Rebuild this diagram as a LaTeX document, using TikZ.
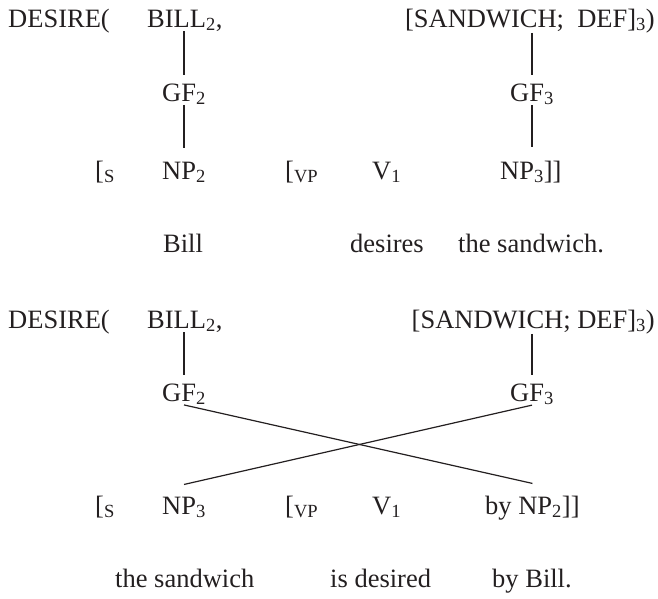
\documentclass[tikz,border=0pt]{standalone}
\usepackage{fontspec}
\setmainfont{Liberation Serif}
\usetikzlibrary{positioning,calc}
\definecolor{ink}{HTML}{231F20}

\begin{document}
\begin{tikzpicture}[x=1pt,y=-1pt,
  every node/.style={inner sep=0pt,text=ink,font=\fontsize{26.5}{31}\selectfont},
  word/.style={anchor=base west},
  wordr/.style={anchor=base east},
  link/.style={ink,line width=1.2pt}]
 \useasboundingbox (0,0) rectangle (658,598);
 % active: Bill desires the sandwich
 \node[word] (desA) at (8,27) {DESIRE(};
 \node[word] (billA) at (147,27) {BILL\textsubscript{2},};
 \node[wordr] (sandA) at (655,27) {[SANDWICH;\ \ DEF]\textsubscript{3})};
 \node[word] (gfbA) at (162,101) {GF\textsubscript{2}};
 \node[word] (gfsA) at (510,101) {GF\textsubscript{3}};
 \node[word] (sA) at (95,179) {[\textsubscript{S}};
 \node[word] (npbA) at (162,179) {NP\textsubscript{2}};
 \node[word] (vpA) at (285,179) {[\textsubscript{VP}};
 \node[word] (vA) at (372,179) {V\textsubscript{1}};
 \node[word] (npsA) at (500,179) {NP\textsubscript{3}]]};
 \node[word] (billwA) at (163,252) {Bill};
 \node[word] (desiresA) at (350,252) {desires};
 \node[word] (sandwA) at (458,252) {the sandwich.};
 \draw[link,shorten >=8pt] (gfbA.north |- billA.south) -- (gfbA.north);
 \draw[link,shorten >=13pt] (gfbA.south) -- (gfbA.south |- npbA.north);
 \draw[link,shorten >=8pt] (gfsA.north |- sandA.south) -- (gfsA.north);
 \draw[link,shorten >=13pt] (gfsA.south) -- (gfsA.south |- npsA.north);
 % passive: the sandwich is desired by Bill
 \node[word] (desB) at (8,328) {DESIRE(};
 \node[word] (billB) at (147,328) {BILL\textsubscript{2},};
 \node[wordr] (sandB) at (655,328) {[SANDWICH; DEF]\textsubscript{3})};
 \node[word] (gfbB) at (162,401) {GF\textsubscript{2}};
 \node[word] (gfsB) at (510,401) {GF\textsubscript{3}};
 \node[word] (sB) at (95,514) {[\textsubscript{S}};
 \node[word] (npsB) at (162,514) {NP\textsubscript{3}};
 \node[word] (vpB) at (285,514) {[\textsubscript{VP}};
 \node[word] (vB) at (372,514) {V\textsubscript{1}};
 \node[word] (byB) at (485,514) {by NP\textsubscript{2}]]};
 \node[word] (sandwB) at (115,587) {the sandwich};
 \node[word] (desiresB) at (330,587) {is desired};
 \node[word] (billwB) at (492,587) {by Bill.};
 \draw[link,shorten >=8pt] (gfbB.north |- billB.south) -- (gfbB.north);
 \draw[link,shorten >=8pt] (gfsB.north |- sandB.south) -- (gfsB.north);
 \draw[link] (gfbB.south) -- ($(byB.north)+(0,-12)$);
 \draw[link] ($(npsB.north)+(0,-12)$) -- (gfsB.south);
\end{tikzpicture}
\end{document}
